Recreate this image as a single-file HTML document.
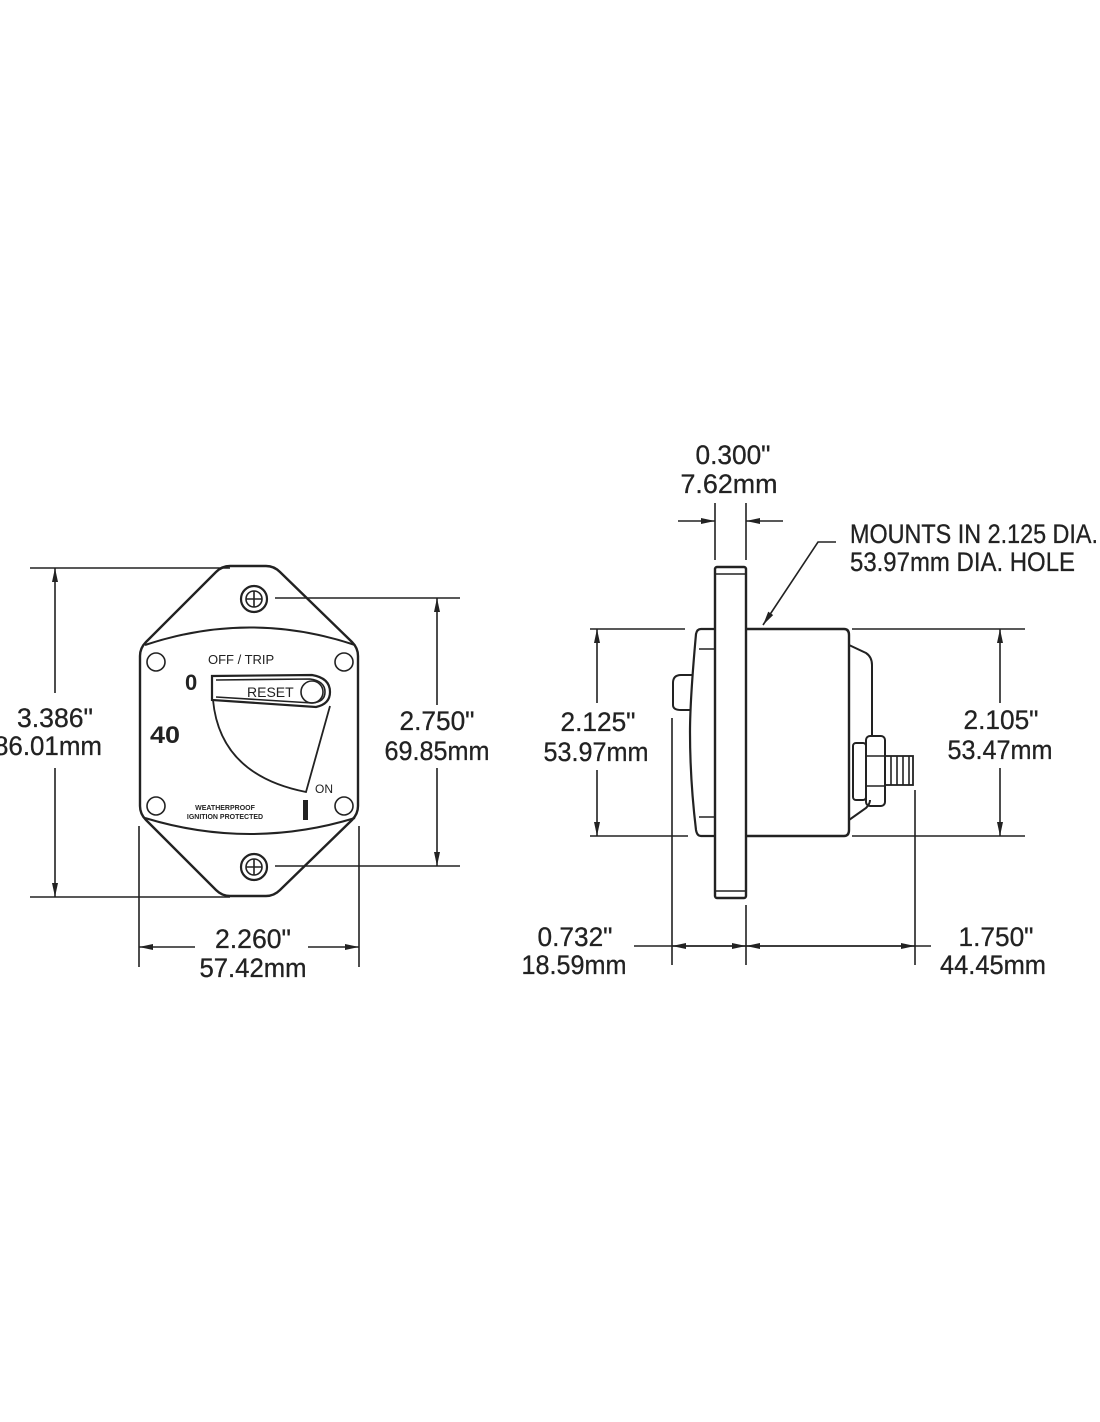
<!DOCTYPE html>
<html><head><meta charset="utf-8"><style>
html,body{margin:0;padding:0;background:#fff;}
svg{display:block;}
.t{font-family:"Liberation Sans Narrow","Liberation Sans",sans-serif;font-size:27px;fill:#222;text-anchor:middle;stroke:#222;stroke-width:0.3;}
.s{font-family:"Liberation Sans",sans-serif;fill:#222;}
</style></head><body>
<svg width="1100" height="1422" viewBox="0 0 1100 1422" xmlns="http://www.w3.org/2000/svg">
<defs>
<marker id="a" viewBox="0 0 14 8" refX="14" refY="4" markerWidth="14" markerHeight="8" markerUnits="userSpaceOnUse" orient="auto"><path d="M0,1 L14,4 L0,7 Z" fill="#222"/></marker>
</defs>
<g stroke="#222" fill="none" stroke-width="1.6">
<!-- LEFT VIEW -->
<path d="M230,566 L266,566 Q274,566 280,572 L352,642 Q358,648 358,656 L358,806 Q358,814 352,820 L280,890 Q274,896 266,896 L230,896 Q222,896 216,890 L146,820 Q140,814 140,806 L140,656 Q140,648 146,642 L216,572 Q222,566 230,566 Z" stroke-width="2.4"/>
<path d="M145,645 Q250,610 355,645" stroke-width="2"/>
<path d="M145,818 Q250,850 355,818" stroke-width="2"/>
<circle cx="254" cy="599" r="13" stroke-width="2.2"/><circle cx="254" cy="599" r="8"/>
<path d="M246,599 H262 M254,591 V607"/>
<circle cx="254" cy="867" r="13" stroke-width="2.2"/><circle cx="254" cy="867" r="8"/>
<path d="M246,867 H262 M254,859 V875"/>
<circle cx="156" cy="662" r="9"/><circle cx="344" cy="662" r="9"/>
<circle cx="156" cy="806" r="9"/><circle cx="344" cy="806" r="9"/>
<path d="M212,676 L312,675 Q330,678 330,692 Q330,704 316,707 L212,700 Z" stroke-width="2.2"/>
<path d="M216,680 L310,679 Q325,681 325,692 Q325,702 312,703 L216,697"/>
<circle cx="312" cy="692" r="11"/>
<path d="M213,700 Q220,775 306,792 L330,706" stroke-width="1.8"/>
<!-- dims left -->
<path d="M30,568 H230 M30,897 H230"/>
<path d="M55,693 V568" marker-end="url(#a)"/><path d="M55,768 V897" marker-end="url(#a)"/>
<path d="M275,598 H460 M275,866 H460"/>
<path d="M437,705 V598" marker-end="url(#a)"/><path d="M437,768 V866" marker-end="url(#a)"/>
<path d="M139,826 V967 M359,826 V967"/>
<path d="M195,947 H139" marker-end="url(#a)"/><path d="M308,947 H359" marker-end="url(#a)"/>
<!-- RIGHT VIEW -->
<rect x="715" y="567" width="31" height="331" rx="2" stroke-width="2.4"/>
<path d="M715,574 H746 M715,891 H746"/>
<path d="M746,629 H844 Q849,629 849,635 L849,830 Q849,836 844,836 H746" stroke-width="2.4"/>
<path d="M715,629 H701 Q697,629 696,634 Q690,700 690,732 Q690,780 696,830 Q697,836 701,836 H715" stroke-width="2.2"/>
<path d="M699,649 H715 M699,817 H715"/>
<path d="M692,675 H681 Q673,675 673,683 L673,705 Q673,710 681,710 H691" stroke-width="2"/>
<path d="M849,645 L866,653 Q872,657 872,665 L872,736" stroke-width="2"/>
<path d="M849,820 L866,808 Q870,804 870,800" stroke-width="2"/>
<rect x="853" y="743" width="13" height="57" rx="3" stroke-width="2"/>
<rect x="866" y="736" width="19" height="70" rx="4" stroke-width="2"/>
<path d="M866,756 H885 M866,786 H885"/>
<rect x="885" y="756" width="28" height="29" stroke-width="1.8"/>
<path d="M891,756 V785 M897,756 V785 M903,756 V785 M909,756 V785"/>
<!-- dims right -->
<path d="M715,503 V560 M746,503 V560"/>
<path d="M678,521 H715" marker-end="url(#a)"/><path d="M783,521 H746" marker-end="url(#a)"/>
<path d="M836,542 H818 L763,625" marker-end="url(#a)"/>
<path d="M590,629 H685 M590,836 H688"/>
<path d="M597,703 V629" marker-end="url(#a)"/><path d="M597,770 V836" marker-end="url(#a)"/>
<path d="M852,629 H1025 M852,836 H1025"/>
<path d="M1000,703 V629" marker-end="url(#a)"/><path d="M1000,768 V836" marker-end="url(#a)"/>
<path d="M672,718 V965 M746,905 V965 M915,790 V965"/>
<path d="M634,946 H931"/>
<path d="M709,946 H672" marker-end="url(#a)"/><path d="M709,946 H746" marker-end="url(#a)"/>
<path d="M830,946 H746" marker-end="url(#a)"/><path d="M830,946 H915" marker-end="url(#a)"/>
</g>
<!-- text -->
<g lengthAdjust="spacingAndGlyphs">
<text class="t" x="55" y="727" textLength="76" lengthAdjust="spacingAndGlyphs">3.386"</text>
<text class="t" x="48" y="755" textLength="108" lengthAdjust="spacingAndGlyphs">86.01mm</text>
<text class="t" x="437" y="730" textLength="75" lengthAdjust="spacingAndGlyphs">2.750"</text>
<text class="t" x="437" y="760" textLength="105" lengthAdjust="spacingAndGlyphs">69.85mm</text>
<text class="t" x="253" y="948" textLength="76" lengthAdjust="spacingAndGlyphs">2.260"</text>
<text class="t" x="253" y="977" textLength="107" lengthAdjust="spacingAndGlyphs">57.42mm</text>
<text class="t" x="733" y="464" textLength="75" lengthAdjust="spacingAndGlyphs">0.300"</text>
<text class="t" x="729" y="493" textLength="97" lengthAdjust="spacingAndGlyphs">7.62mm</text>
<text class="t" x="850" y="543" style="text-anchor:start" textLength="248" lengthAdjust="spacingAndGlyphs">MOUNTS IN 2.125 DIA.</text>
<text class="t" x="850" y="571" style="text-anchor:start" textLength="225" lengthAdjust="spacingAndGlyphs">53.97mm DIA. HOLE</text>
<text class="t" x="598" y="731" textLength="75" lengthAdjust="spacingAndGlyphs">2.125"</text>
<text class="t" x="596" y="761" textLength="105" lengthAdjust="spacingAndGlyphs">53.97mm</text>
<text class="t" x="1001" y="729" textLength="75" lengthAdjust="spacingAndGlyphs">2.105"</text>
<text class="t" x="1000" y="759" textLength="105" lengthAdjust="spacingAndGlyphs">53.47mm</text>
<text class="t" x="575" y="946" textLength="75" lengthAdjust="spacingAndGlyphs">0.732"</text>
<text class="t" x="574" y="974" textLength="105" lengthAdjust="spacingAndGlyphs">18.59mm</text>
<text class="t" x="996" y="946" textLength="75" lengthAdjust="spacingAndGlyphs">1.750"</text>
<text class="t" x="993" y="974" textLength="106" lengthAdjust="spacingAndGlyphs">44.45mm</text>
</g>
<text class="s" x="208" y="664" font-size="13">OFF / TRIP</text>
<text class="s" x="185" y="690" font-size="22" font-weight="bold">0</text>
<text class="s" x="247" y="697" font-size="14">RESET</text>
<text class="s" x="150" y="743" font-size="24" font-weight="bold" textLength="30" lengthAdjust="spacingAndGlyphs">40</text>
<text class="s" x="315" y="793" font-size="12">ON</text>
<rect x="303" y="800" width="5" height="20" fill="#222"/>
<text class="s" x="225" y="810" font-size="7" font-weight="bold" text-anchor="middle">WEATHERPROOF</text>
<text class="s" x="225" y="819" font-size="7" font-weight="bold" text-anchor="middle">IGNITION PROTECTED</text>
</svg>
</body></html>
